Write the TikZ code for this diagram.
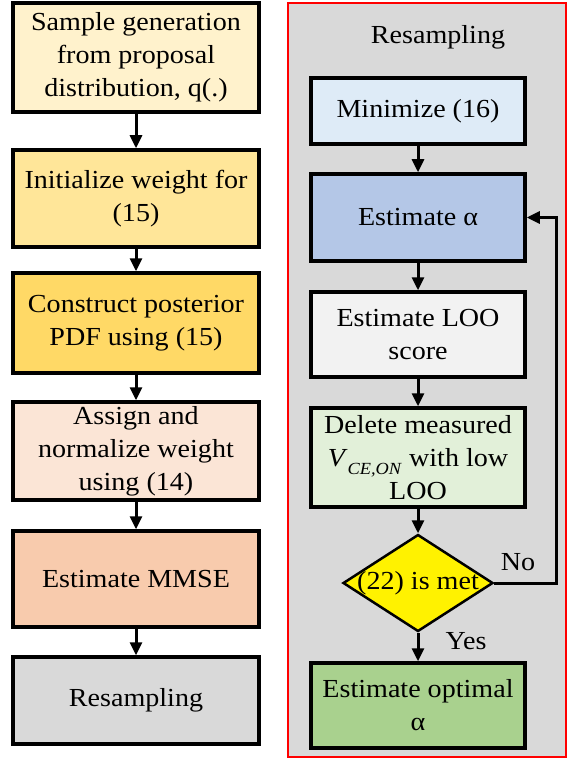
\documentclass[tikz,border=0pt]{standalone}
\usepackage{fontspec}
\setmainfont{Liberation Serif}[FakeStretch=1.08]
\usetikzlibrary{arrows.meta,shapes.geometric}
\definecolor{cA}{HTML}{FFF2CC}
\definecolor{cB}{HTML}{FFE699}
\definecolor{cC}{HTML}{FFD966}
\definecolor{cD}{HTML}{FBE5D6}
\definecolor{cE}{HTML}{F8CBAD}
\definecolor{cF}{HTML}{D9D9D9}
\definecolor{cG}{HTML}{DEEBF7}
\definecolor{cH}{HTML}{B4C7E7}
\definecolor{cI}{HTML}{F2F2F2}
\definecolor{cJ}{HTML}{E2F0D9}
\definecolor{cK}{HTML}{A9D18E}
\definecolor{cBg}{HTML}{D9D9D9}
\tikzset{
  txt/.style={font=\fontsize{26}{33}\selectfont, align=center},
  lbox/.style={txt, draw=black, line width=3.5pt, minimum width=246pt, inner sep=0pt},
  rbox/.style={txt, draw=black, line width=3.5pt, minimum width=214pt, inner sep=0pt},
  decis/.style={diamond, draw=black, line width=2.5pt, fill=yellow, minimum width=150pt, minimum height=97pt, inner sep=0pt},
  arr/.style={-{Triangle[length=13pt,width=12pt]}, line width=3pt, black},
  container/.style={draw=red, line width=2pt, fill=cBg}
}
\begin{document}
\begin{tikzpicture}[x=1pt,y=-1pt]
\useasboundingbox (0,0) rectangle (568,759);
% container
\node[container, minimum width=278pt, minimum height=754pt, inner sep=0pt] (cont) at (427,380) {};
\node[txt] (title) at (438,37) {Resampling};
% left column
\node[lbox, fill=cA, minimum height=109pt] (b1) at (136,57.5) {Sample generation\\from proposal\\distribution, q(.)};
\node[lbox, fill=cB, minimum height=97pt] (b2) at (136,198.5) {Initialize weight for\\(15)};
\node[lbox, fill=cC, minimum height=100pt] (b3) at (136,323) {Construct posterior\\PDF using (15)};
\node[lbox, fill=cD, minimum height=98pt] (b4) at (136,451) {Assign and\\normalize weight\\using (14)};
\node[lbox, fill=cE, minimum height=96pt] (b5) at (136,579) {Estimate MMSE};
\node[lbox, fill=cF, minimum height=87pt] (b6) at (136,700.5) {Resampling};
\draw[arr] (b1) -- (b2);
\draw[arr] (b2) -- (b3);
\draw[arr] (b3) -- (b4);
\draw[arr] (b4) -- (b5);
\draw[arr] (b5) -- (b6);
% right column
\node[rbox, fill=cG, minimum height=66pt] (mn) at (418,111) {Minimize (16)};
\node[rbox, fill=cH, minimum height=87pt] (ea) at (418,217.5) {Estimate α};
\node[rbox, fill=cI, minimum height=85pt] (loo) at (418,334.5) {Estimate LOO\\score};
\node[rbox, fill=cJ, minimum height=99pt] (del) at (418,457.5) {Delete measured\\\textit{V}\raisebox{-0.3em}{\fontsize{17}{17}\selectfont\textit{CE,ON}} with low\\LOO};
\node[decis] (dc) at (418,583) {};
\node[txt] (dct) at (dc) {(22) is met};
\node[rbox, fill=cK, minimum height=85pt] (opt) at (418,705.5) {Estimate optimal\\α};
\draw[arr] (mn) -- (ea);
\draw[arr] (ea) -- (loo);
\draw[arr] (loo) -- (del);
\draw[arr] (del) -- (dc);
\draw[arr] (dc) -- (opt);
\coordinate (loopc) at (556,583);
\draw[arr] (dc.east) -- (loopc) |- (ea.east);
\node[txt] (no) at (518,562) {No};
\node[txt] (yes) at (466,641) {Yes};
\end{tikzpicture}
\end{document}
